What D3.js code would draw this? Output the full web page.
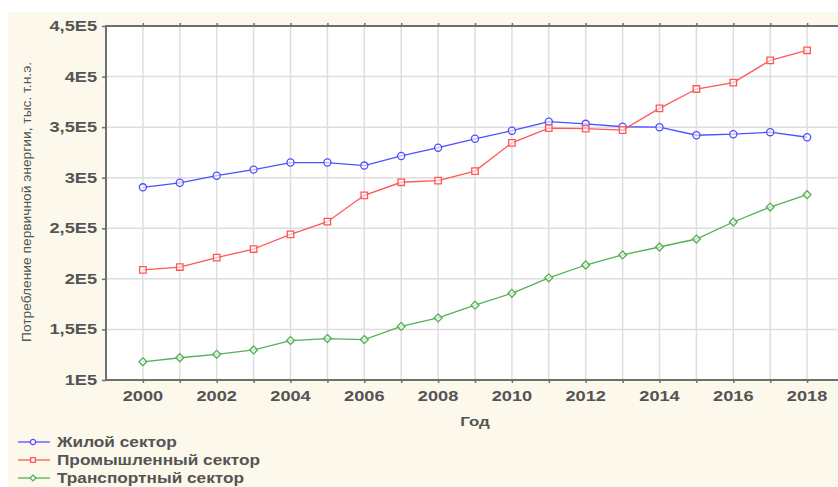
<!DOCTYPE html>
<html>
<head>
<meta charset="utf-8">
<script src="https://cdn.jsdelivr.net/npm/d3@7"></script>
<style>
  html, body { margin: 0; padding: 0; background: #fff; }
  svg { display: block; font-family: Arial, "Liberation Sans", sans-serif; }
</style>
</head>
<body>
<svg id="chart" width="838" height="487"></svg>
<script>
// chart data
const years = d3.range(2000, 2019);
const residential = [290500, 295000, 302000, 308000, 315000, 315000, 312000, 321500, 329700, 338500,
                     346500, 355400, 353300, 350400, 350000, 342000, 343000, 345000, 340000];
const industrial = [208800, 211700, 221000, 229500, 244000, 256500, 282600, 295500, 297200, 306500,
                    334500, 349000, 348500, 347000, 368600, 387700, 394000, 416000, 426000];
const transport = [118000, 122000, 125400, 129700, 139000, 141000, 140000, 153000, 161400, 174000,
                   185700, 201000, 213700, 223600, 231500, 239400, 256200, 271000, 283200];
const seriesNames = ["Жилой сектор", "Промышленный сектор", "Транспортный сектор"];
const yTicks = [1e5, 1.5e5, 2e5, 2.5e5, 3e5, 3.5e5, 4e5, 4.5e5];
const xTicks = [2000, 2002, 2004, 2006, 2008, 2010, 2012, 2014, 2016, 2018];

const svg = d3.select("#chart");
const W = 838, H = 487;
const plot = { left: 106, top: 26, right: 844, bottom: 380 };

const x = d3.scaleLinear().domain([1999, 2019]).range([plot.left, plot.right]);
const y = d3.scaleLinear().domain([1e5, 4.5e5]).range([plot.bottom, plot.top]);

const fmt = v => {
    let m = v / 1e5;
    return (Number.isInteger(m) ? m : String(m).replace(".", ",")) + "E5";
};

// cream background panel
svg.append("rect").attr("x", 0).attr("y", 0).attr("width", W).attr("height", H).attr("fill", "#fff");
svg.append("rect").attr("x", 8).attr("y", 12).attr("width", W - 8).attr("height", H - 12).attr("fill", "#fdf8ec");

// plot area
svg.append("rect")
    .attr("x", plot.left).attr("y", plot.top)
    .attr("width", plot.right - plot.left).attr("height", plot.bottom - plot.top)
    .attr("fill", "#fff");

// grid
svg.append("g")
    .selectAll("line")
    .data(yTicks.slice(1, -1))
    .join("line")
    .attr("x1", plot.left).attr("x2", plot.right)
    .attr("y1", d => y(d)).attr("y2", d => y(d))
    .attr("stroke", "#dedede").attr("stroke-width", 1.5);

svg.append("g")
    .selectAll("line")
    .data(years)
    .join("line")
    .attr("x1", d => x(d)).attr("x2", d => x(d))
    .attr("y1", plot.top).attr("y2", plot.bottom)
    .attr("stroke", "#dedede").attr("stroke-width", 1.5);

// axes frame
const axisColor = "#6f6f6f";
const axisLeft = svg.append("g")
    .attr("transform", `translate(${plot.left},0)`)
    .call(d3.axisLeft(y).tickValues(yTicks).tickSize(4).tickFormat(""));
const axisBottom = svg.append("g")
    .attr("transform", `translate(0,${plot.bottom})`)
    .call(d3.axisBottom(x).tickValues(years).tickSize(3).tickFormat(""));
const axisTop = svg.append("g")
    .attr("transform", `translate(0,${plot.top})`)
    .call(d3.axisTop(x).tickValues(years).tickSize(3).tickFormat(""));

[axisLeft, axisBottom, axisTop].forEach(g => {
    g.select(".domain").remove();
    g.selectAll(".tick line").attr("stroke", axisColor).attr("stroke-width", 1.5);
});

svg.append("line")
    .attr("x1", plot.left).attr("x2", plot.right)
    .attr("y1", plot.top).attr("y2", plot.top)
    .attr("stroke", axisColor).attr("stroke-width", 2);
svg.append("line")
    .attr("x1", plot.left).attr("x2", plot.right)
    .attr("y1", plot.bottom).attr("y2", plot.bottom)
    .attr("stroke", axisColor).attr("stroke-width", 2);
svg.append("line")
    .attr("x1", plot.left).attr("x2", plot.left)
    .attr("y1", plot.top - 1).attr("y2", plot.bottom + 1)
    .attr("stroke", axisColor).attr("stroke-width", 2);

// tick labels (the original is stretched horizontally)
const labelColor = "#545454";
const stretch = 1.3;

svg.append("g")
    .selectAll("text")
    .data(yTicks)
    .join("text")
    .attr("transform", d => `translate(97,${y(d) + 5}) scale(${stretch},1)`)
    .attr("text-anchor", "end")
    .attr("font-size", 14).attr("font-weight", "bold")
    .attr("fill", labelColor)
    .text(fmt);

svg.append("g")
    .selectAll("text")
    .data(xTicks)
    .join("text")
    .attr("transform", d => `translate(${x(d)},401) scale(${stretch},1)`)
    .attr("text-anchor", "middle")
    .attr("font-size", 14).attr("font-weight", "bold")
    .attr("fill", labelColor)
    .text(d => d);

svg.append("text")
    .attr("transform", `translate(475,426) scale(${stretch},1)`)
    .attr("text-anchor", "middle")
    .attr("font-size", 13).attr("font-weight", "bold")
    .attr("fill", labelColor)
    .text("Год");

svg.append("text")
    .attr("transform", "translate(31,202) rotate(-90)")
    .attr("text-anchor", "middle")
    .attr("font-size", 12)
    .attr("fill", labelColor)
    .attr("textLength", 280)
    .attr("lengthAdjust", "spacingAndGlyphs")
    .text("Потребление первичной энергии, тыс. т.н.э.");

// series
const series = [
    { name: seriesNames[0], values: residential, color: "#4f4fff", shape: d3.symbolCircle, size: 40 },
    { name: seriesNames[1], values: industrial, color: "#ff5757", shape: d3.symbolSquare, size: 42 },
    { name: seriesNames[2], values: transport, color: "#55b055", shape: d3.symbolDiamond2, size: 40 }
];

const line = d3.line()
    .x((d, i) => x(years[i]))
    .y(d => y(d));

const sg = svg.append("g")
    .selectAll("g")
    .data(series)
    .join("g");

sg.append("path")
    .attr("d", d => line(d.values))
    .attr("fill", "none")
    .attr("stroke", d => d.color)
    .attr("stroke-width", 1.3);

sg.each(function(s) {
    d3.select(this).selectAll("path.mark")
        .data(s.values)
        .join("path")
        .classed("mark", true)
        .attr("transform", (d, i) => `translate(${x(years[i])},${y(d)})`)
        .attr("d", d3.symbol(s.shape, s.size))
        .attr("fill", "#fff")
        .attr("fill-opacity", 0.6)
        .attr("stroke", s.color)
        .attr("stroke-width", 1.3);
});

// legend
const legendY = [442, 460, 478];
const lg = svg.append("g")
    .selectAll("g")
    .data(series)
    .join("g")
    .attr("transform", (d, i) => `translate(0,${legendY[i]})`);

lg.append("line")
    .attr("x1", 18).attr("x2", 50)
    .attr("stroke", d => d.color).attr("stroke-width", 1.3);
lg.append("path")
    .attr("transform", "translate(33,0)")
    .attr("d", d => d3.symbol(d.shape, 22)())
    .attr("fill", "#fff")
    .attr("stroke", d => d.color)
    .attr("stroke-width", 1.3);
lg.append("text")
    .attr("transform", "translate(57,5) scale(1.23,1)")
    .attr("font-size", 14).attr("font-weight", "bold")
    .attr("fill", labelColor)
    .text(d => d.name);
</script>
</body>
</html>
